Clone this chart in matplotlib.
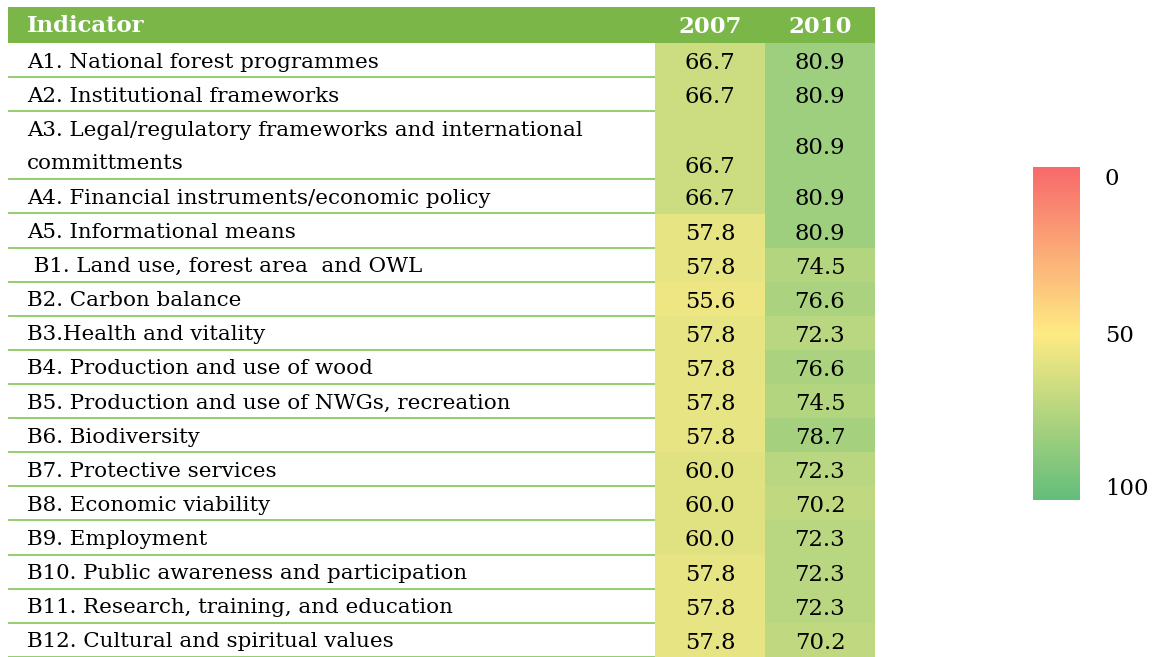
import numpy as np
import matplotlib.pyplot as plt
from matplotlib.colors import LinearSegmentedColormap, Normalize
from matplotlib.patches import Rectangle

plt.rcParams['font.family'] = ['DejaVu Serif']

indicators = [
    "A1. National forest programmes",
    "A2. Institutional frameworks",
    "A3. Legal/regulatory frameworks and international\ncommittments",
    "A4. Financial instruments/economic policy",
    "A5. Informational means",
    " B1. Land use, forest area  and OWL",
    "B2. Carbon balance",
    "B3.Health and vitality",
    "B4. Production and use of wood",
    "B5. Production and use of NWGs, recreation",
    "B6. Biodiversity",
    "B7. Protective services",
    "B8. Economic viability",
    "B9. Employment",
    "B10. Public awareness and participation",
    "B11. Research, training, and education",
    "B12. Cultural and spiritual values",
]
v2007 = [66.7, 66.7, 66.7, 66.7, 57.8, 57.8, 55.6, 57.8, 57.8, 57.8, 57.8, 60.0, 60.0, 60.0, 57.8, 57.8, 57.8]
v2010 = [80.9, 80.9, 80.9, 80.9, 80.9, 74.5, 76.6, 72.3, 76.6, 74.5, 78.7, 72.3, 70.2, 72.3, 72.3, 72.3, 70.2]
years = ["2007", "2010"]

# excel style 3 colour scale
cmap = LinearSegmentedColormap.from_list(
    "rag", [(0.0, "#F8696B"), (0.5, "#FFEB84"), (1.0, "#63BE7B")])
norm = Normalize(0, 100)

header_green = "#7AB648"
line_green = "#8CC865"

W, H = 1152, 657
fig = plt.figure(figsize=(W / 100, H / 100), dpi=100)
ax = fig.add_axes([0, 0, 1, 1])
ax.set_xlim(0, W)
ax.set_ylim(H, 0)
ax.axis("off")

# layout (pixels)
x0, x_text_end = 8, 655
col_w = 110
header_top, header_bot = 7, 43
unit = 34.1
fs_lab = 15.4
fs_num = 16.4
fs_head = 16.4

ax.add_patch(Rectangle((x0, header_top), x_text_end + 2 * col_w - x0,
                       header_bot - header_top, color=header_green, lw=0))
ax.text(27, (header_top + header_bot) / 2 + 1, "Indicator", color="white",
        fontsize=fs_head, fontweight="bold", va="center", ha="left")
for j, yr in enumerate(years):
    ax.text(x_text_end + col_w * (j + 0.5), (header_top + header_bot) / 2 + 2, yr,
            color="white", fontsize=fs_head, fontweight="bold", va="center", ha="center")

y = header_bot
for i, label in enumerate(indicators):
    nlines = label.count("\n") + 1
    h = unit * nlines
    yc = y + h / 2
    for j, vals in enumerate([v2007, v2010]):
        ax.add_patch(Rectangle((x_text_end + j * col_w, y), col_w, h + 0.5,
                               color=cmap(norm(vals[i])), lw=0))
        ty = yc
        if nlines > 1 and j == 0:
            ty = y + h - unit / 2 + 2
        ax.text(x_text_end + col_w * (j + 0.5), ty + 3, f"{vals[i]:.1f}",
                fontsize=fs_num, va="center", ha="center", color="black")
    ax.text(27, yc + 2, label, fontsize=fs_lab, va="center", ha="left",
            color="black", linespacing=1.95)
    ax.plot([x0, x_text_end], [y + h, y + h], color=line_green, lw=1.3,
            solid_capstyle="butt")
    y += h

# colour bar
cax = fig.add_axes([1033 / W, 1 - 500 / H, 47 / W, 333 / H])
grad = np.linspace(0, 100, 256).reshape(-1, 1)
cax.imshow(grad, aspect="auto", cmap=cmap, norm=norm, extent=[0, 1, 100, 0])
cax.set_xticks([])
cax.set_ylim(100, 0)
cax.yaxis.tick_right()
cax.set_yticks([3, 50, 96])
cax.set_yticklabels(["0", "50", "100"], fontsize=fs_num)
cax.tick_params(axis="y", length=0, pad=18)
for s in cax.spines.values():
    s.set_visible(False)

fig.savefig("out.png", dpi=100)
